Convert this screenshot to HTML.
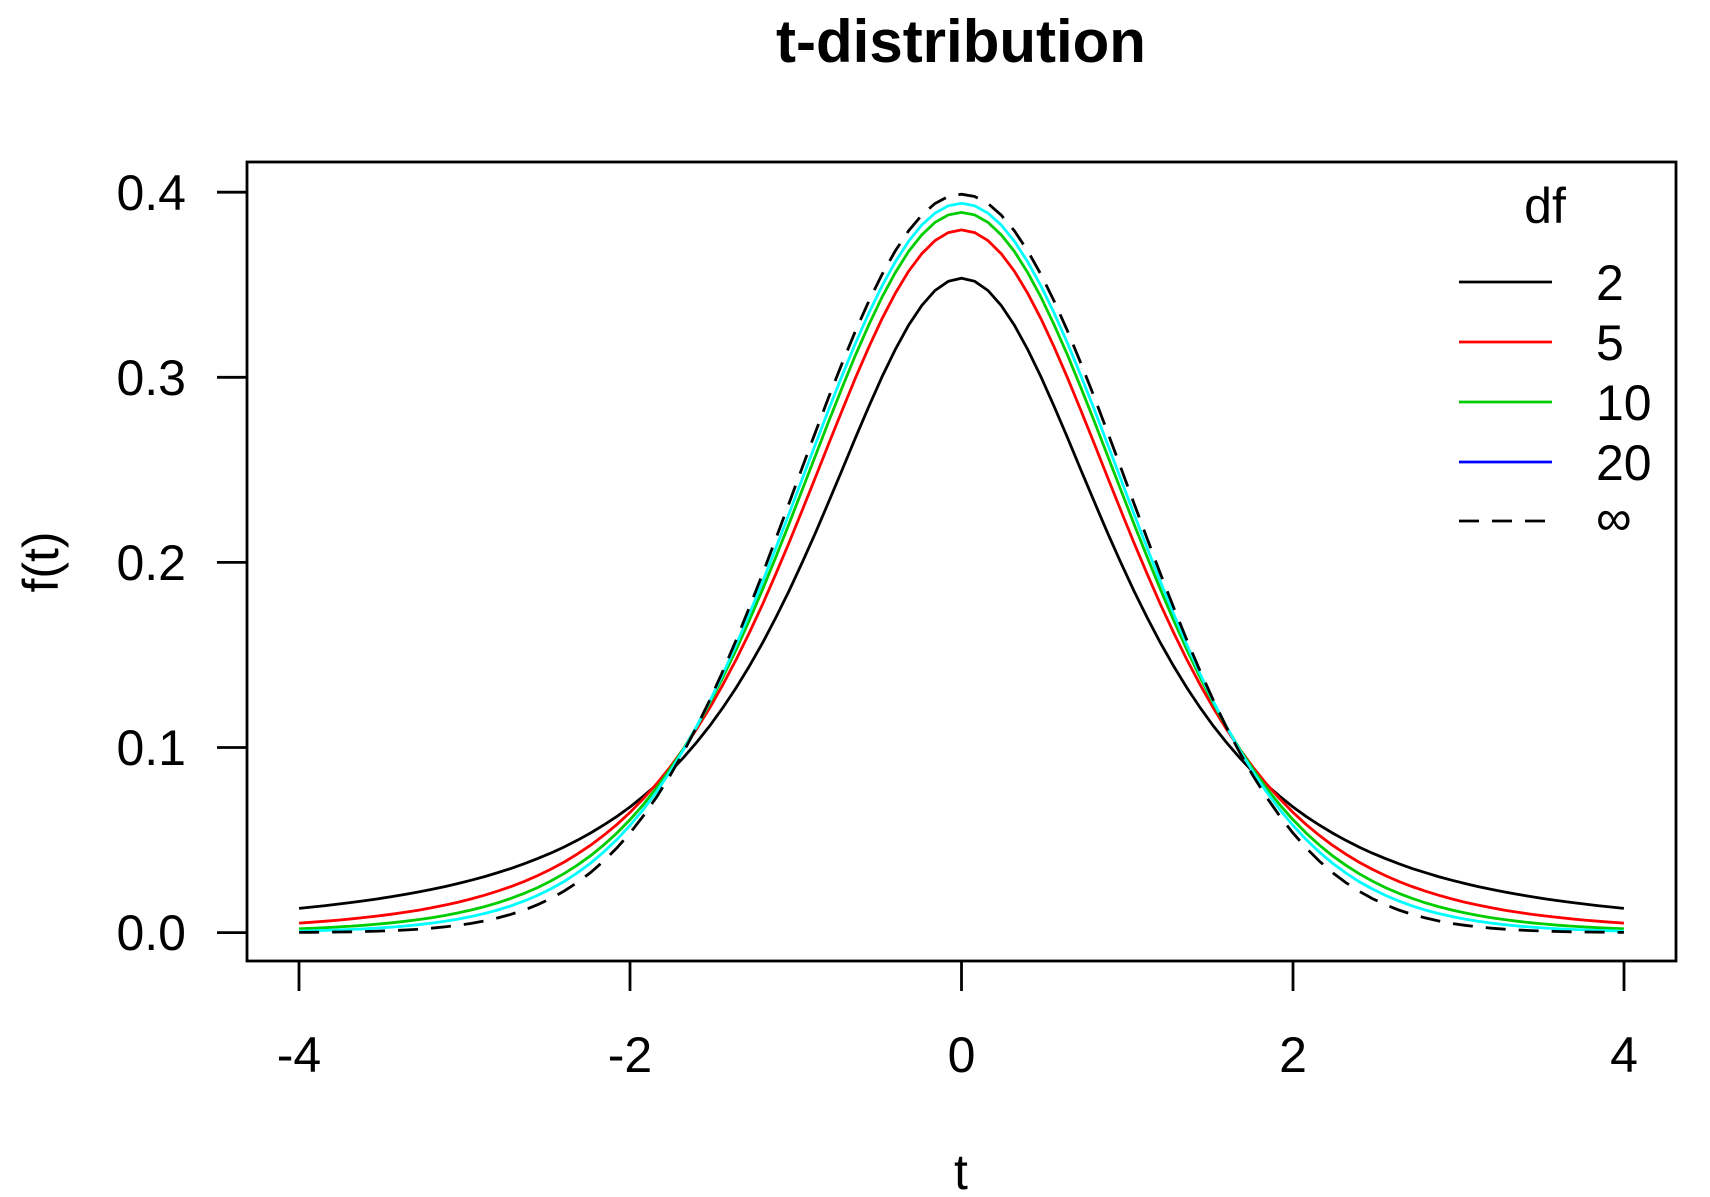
<!DOCTYPE html>
<html><head><meta charset="utf-8"><style>
html,body{margin:0;padding:0;background:#fff}
svg{display:block}
text{font-family:"Liberation Sans",Arial,sans-serif;fill:#000}
</style></head><body>
<svg id="s" width="1710" height="1197" viewBox="0 0 1710 1197" xmlns="http://www.w3.org/2000/svg">
<text x="961" y="62" font-size="60" font-weight="bold" text-anchor="middle">t-distribution</text>
<rect x="247" y="162" width="1429" height="799" fill="none" stroke="#000" stroke-width="2.8"/>
<g stroke="#000" stroke-width="2.8">
<line x1="299" y1="961" x2="299" y2="991"/><line x1="630" y1="961" x2="630" y2="991"/><line x1="961.5" y1="961" x2="961.5" y2="991"/><line x1="1293" y1="961" x2="1293" y2="991"/><line x1="1624" y1="961" x2="1624" y2="991"/>
<line x1="247" y1="932.6" x2="217" y2="932.6"/><line x1="247" y1="747.5" x2="217" y2="747.5"/><line x1="247" y1="562.4" x2="217" y2="562.4"/><line x1="247" y1="377.3" x2="217" y2="377.3"/><line x1="247" y1="192.2" x2="217" y2="192.2"/>
</g>
<g font-size="50" text-anchor="middle">
<text x="299" y="1072">-4</text><text x="630" y="1072">-2</text><text x="961.5" y="1072">0</text><text x="1293" y="1072">2</text><text x="1624" y="1072">4</text>
</g>
<g font-size="50" text-anchor="end">
<text x="186" y="950">0.0</text><text x="186" y="765">0.1</text><text x="186" y="580">0.2</text><text x="186" y="395">0.3</text><text x="186" y="210">0.4</text>
</g>
<text x="961" y="1189" font-size="50" text-anchor="middle">t</text>
<text transform="translate(58,562) rotate(-90)" font-size="50" text-anchor="middle">f(t)</text>
<g id="curves" fill="none" stroke-width="2.8"></g>
<text x="1545" y="223" font-size="50" text-anchor="middle">df</text>
<g stroke-width="2.8">
<line x1="1459" y1="282" x2="1552" y2="282" stroke="#000"/>
<line x1="1459" y1="342" x2="1552" y2="342" stroke="#f00"/>
<line x1="1459" y1="402" x2="1552" y2="402" stroke="#00cd00"/>
<line x1="1459" y1="462" x2="1552" y2="462" stroke="#00f"/>
<line x1="1459" y1="521" x2="1552" y2="521" stroke="#000" stroke-dasharray="20,13"/>
</g>
<g font-size="50">
<text x="1596" y="300">2</text><text x="1596" y="360">5</text><text x="1596" y="420">10</text><text x="1596" y="480">20</text><text x="1596" y="535">∞</text>
</g>
</svg>
<script>
function lg(z){var g=7,c=[0.99999999999980993,676.5203681218851,-1259.1392167224028,771.32342877765313,-176.61502916214059,12.507343278686905,-0.13857109526572012,9.9843695780195716e-6,1.5056327351493116e-7];
if(z<0.5)return Math.log(Math.PI/Math.sin(Math.PI*z))-lg(1-z);z-=1;var x=c[0];for(var i=1;i<g+2;i++)x+=c[i]/(z+i);var t=z+g+0.5;return 0.5*Math.log(2*Math.PI)+(z+0.5)*Math.log(t)-t+Math.log(x);}
function dt(t,n){if(n===Infinity)return Math.exp(-t*t/2)/Math.sqrt(2*Math.PI);
return Math.exp(lg((n+1)/2)-lg(n/2)-0.5*Math.log(n*Math.PI)-(n+1)/2*Math.log(1+t*t/n));}
var specs=[[2,"#000",""],[5,"#f00",""],[10,"#00cd00",""],[20,"#0ff",""],[Infinity,"#000","20,13"]];
var g=document.getElementById("curves"),ns="http://www.w3.org/2000/svg";
specs.forEach(function(s){var p=[];for(var i=0;i<=100;i++){var t=-4+i*0.08;p.push((961.5+t*165.6).toFixed(1)+","+(932.6-dt(t,s[0])*1851).toFixed(1));}
var e=document.createElementNS(ns,"polyline");e.setAttribute("points",p.join(" "));e.setAttribute("stroke",s[1]);if(s[2])e.setAttribute("stroke-dasharray",s[2]);g.appendChild(e);});
</script>
</body></html>
